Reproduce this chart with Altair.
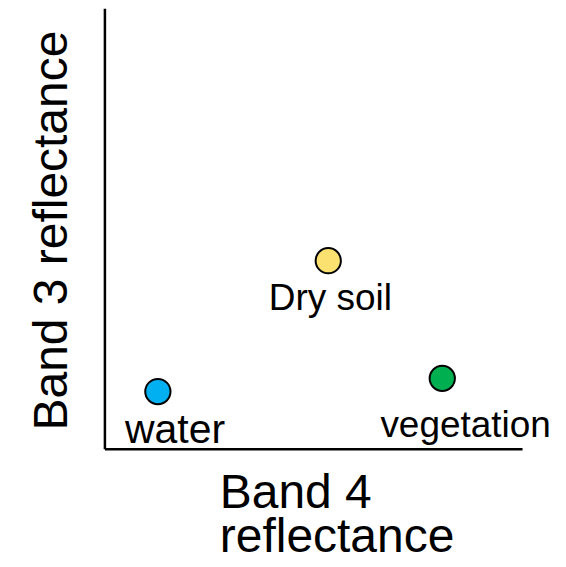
import altair as alt
import pandas as pd

# Data
classes = ["water", "Dry soil", "vegetation"]
band4 = [1.28, 5.36, 8.09]
band3 = [1.30, 4.27, 1.60]
colors = ["#00B0F0", "#FBE16F", "#00B050"]

label_x = [1.69, 5.41, 8.65]
label_y = [0.125, 3.16, 0.26]
label_size = [41, 37, 37]

pts = pd.DataFrame({"cls": classes, "b4": band4, "b3": band3, "col": colors})
labs = pd.DataFrame({"cls": classes, "lx": label_x, "ly": label_y, "fs": label_size})

FONT = "Liberation Sans"

xscale = alt.Scale(domain=[0, 10], nice=False, zero=False)
yscale = alt.Scale(domain=[0, 10], nice=False, zero=False)

xaxis = alt.Axis(
    title=["Band 4", "reflectance"],
    titleFont=FONT, titleFontSize=48, titleFontWeight="normal", titleColor="black",
    titleLineHeight=44, titleBaseline="alphabetic", titleY=58.5,
    titleAlign="left", titleAnchor="start", titleX=115,
    labels=False, ticks=False, grid=False,
    domain=True, domainColor="black", domainWidth=2.5,
)
yaxis = alt.Axis(
    title="Band 3 reflectance",
    titleFont=FONT, titleFontSize=48, titleFontWeight="normal", titleColor="black",
    titleBaseline="alphabetic", titleX=-38, titleY=222, titleAngle=270,
    labels=False, ticks=False, grid=False,
    domain=True, domainColor="black", domainWidth=2.5,
)

points = alt.Chart(pts).mark_point(
    shape="circle", filled=True, size=640, stroke="black", strokeWidth=2, opacity=1
).encode(
    x=alt.X("b4:Q", scale=xscale, axis=xaxis),
    y=alt.Y("b3:Q", scale=yscale, axis=yaxis),
    fill=alt.Fill("col:N", scale=None),
)

labels = alt.Chart(labs).mark_text(
    font=FONT, baseline="alphabetic", align="center", color="black"
).encode(
    x=alt.X("lx:Q", scale=xscale),
    y=alt.Y("ly:Q", scale=yscale),
    text="cls:N",
    size=alt.Size("fs:Q", scale=None),
)

chart = alt.layer(points, labels).properties(
    width=418, height=441,
    background="white",
    autosize=alt.AutoSizeParams(type="none"),
    padding={"left": 96.5, "top": 0, "right": 36, "bottom": 117},
).configure_view(stroke="transparent", strokeWidth=0)

chart.save("out.html", embed_options={"renderer": "svg", "actions": False})
